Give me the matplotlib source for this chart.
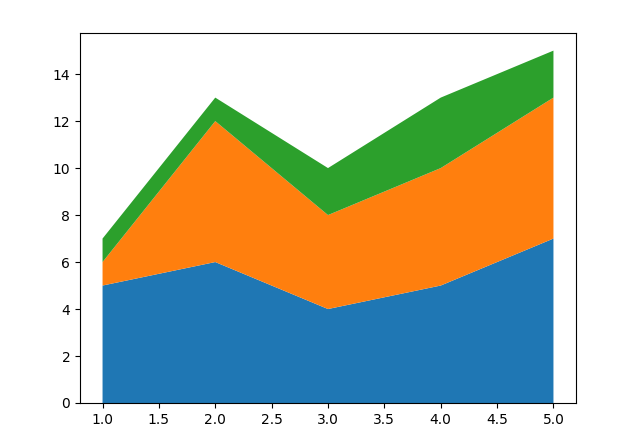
import matplotlib
matplotlib.use("Agg")
import matplotlib.pyplot as plt

x = [1, 2, 3, 4, 5]
y1 = [5, 6, 4, 5, 7]
y2 = [1, 6, 4, 5, 6]
y3 = [1, 1, 2, 3, 2]

fig = plt.figure(figsize=(6.4, 4.3), dpi=100)
ax = fig.add_axes([80 / 640, 27 / 430, 496 / 640, 370 / 430])
ax.stackplot(x, y1, y2, y3)
fig.savefig("out.png", dpi=100)
